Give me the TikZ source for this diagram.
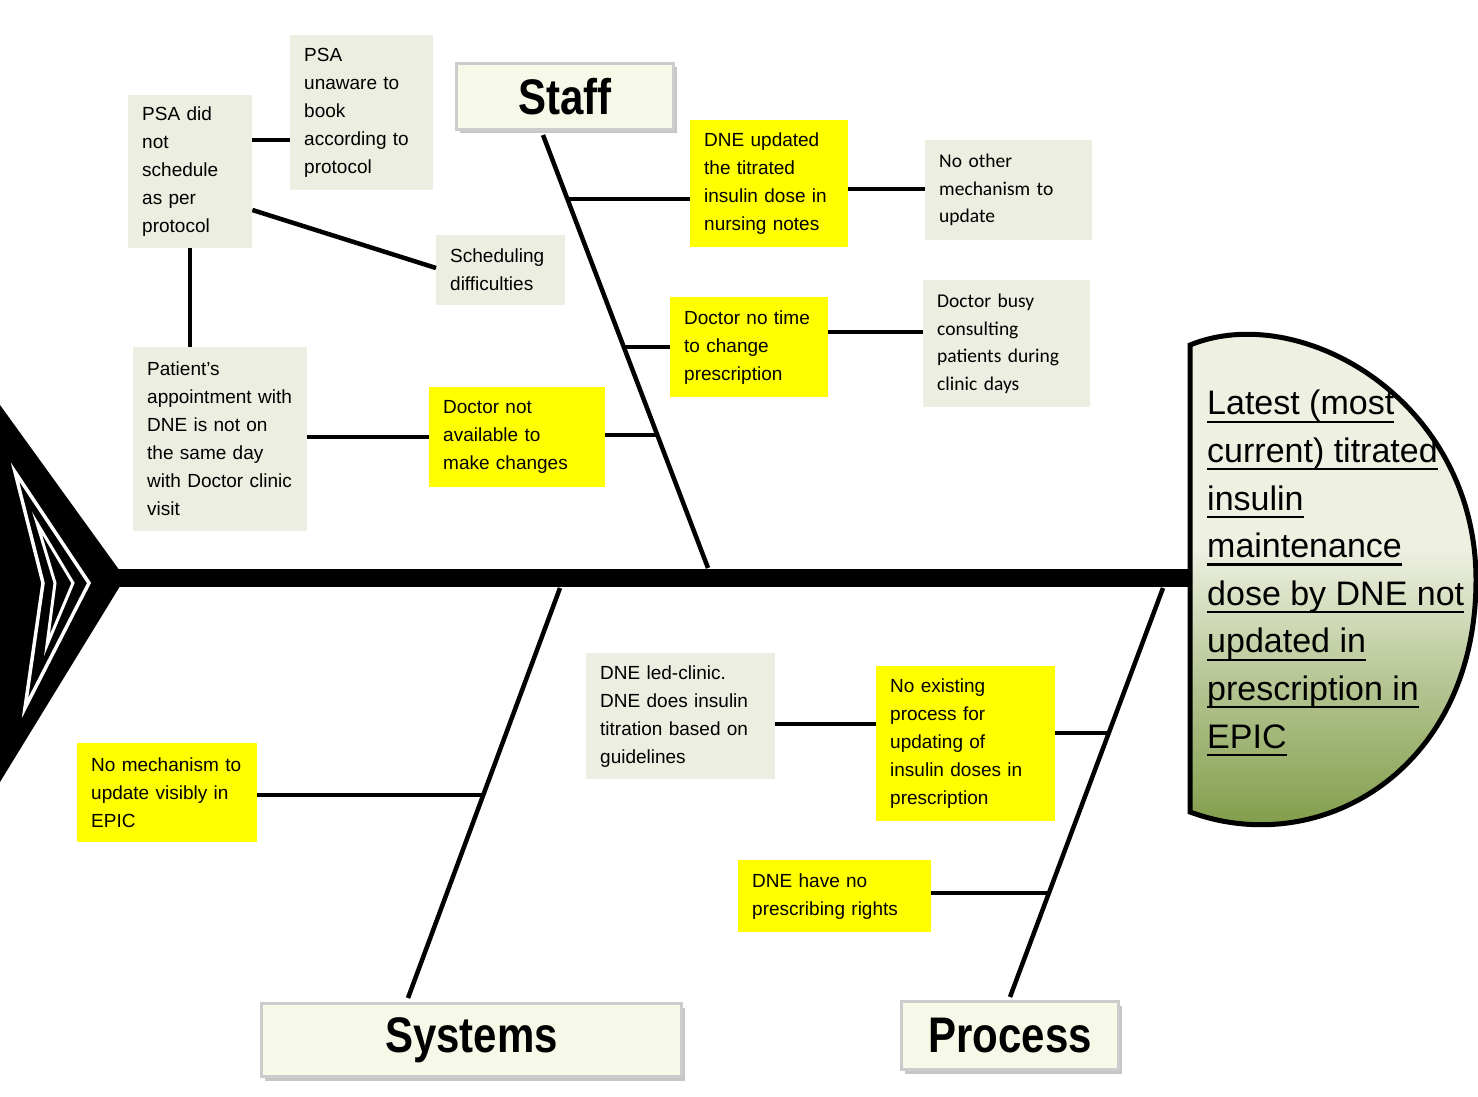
\documentclass[tikz,border=0pt]{standalone}
\usepackage{fontspec}
\setmainfont{Liberation Sans}
\newfontfamily\carlito{Carlito}
\newfontfamily\estrecha{Liberation Sans}[FakeStretch=0.84]
\usetikzlibrary{positioning,shadows}
\newcommand\subrayado[1]{\setbox0\hbox{#1}\rlap{\rule[-8pt]{\wd0}{2.2pt}}\box0}
\definecolor{grisverde}{RGB}{235,238,224}
\definecolor{amarillo}{RGB}{255,255,0}
\definecolor{crema}{RGB}{246,249,231}
\definecolor{verdeclaro}{RGB}{238,241,226}
\definecolor{verdeoliva}{RGB}{118,148,58}
\pgfdeclareverticalshading{cabeza}{100bp}{color(0bp)=(verdeoliva); color(25bp)=(verdeoliva); color(40bp)=(verdeoliva!50!verdeclaro); color(53bp)=(verdeclaro); color(100bp)=(verdeclaro)}
\tikzset{causa/.style={fill=grisverde, anchor=north west, align=left, inner xsep=14pt, inner ysep=0pt, font=\fontsize{19}{28}\selectfont}}
\tikzset{amarilla/.style={causa, fill=amarillo}}
\tikzset{nota/.style={causa, font=\carlito\fontsize{19.5}{27.5}\selectfont}}
\tikzset{categoria/.style={fill=crema, draw=gray!40, line width=3pt, anchor=north west, inner sep=0pt, font=\estrecha\bfseries\fontsize{50}{50}\selectfont, drop shadow={shadow xshift=3pt, shadow yshift=-4pt, opacity=0.45}}}
\tikzset{hueso/.style={line width=4.5pt}}

\begin{document}
\begin{tikzpicture}[x=1pt, y=-1pt]
            \useasboundingbox (0,0) rectangle (1478,1097);

            % cola
            \fill[black] (0,405) -- (125,578) -- (0,782) -- cycle;
            \draw[white, line width=3.5pt, line join=miter] (15,472) -- (89,583) -- (25,708) -- (43,583) -- cycle;
            \draw[white, line width=3pt, line join=miter] (37,523) -- (73,583) -- (47,645) -- (55,583) -- cycle;

            % espina y huesos
            \coordinate (tailTip) at (118,578);
            \coordinate (headSide) at (1195,578);
            \coordinate (staffTop) at (543,135);
            \coordinate (staffBot) at (708,568);
            \coordinate (sysTop) at (560,588);
            \coordinate (sysBot) at (408,998);
            \coordinate (procTop) at (1163,588);
            \coordinate (procBot) at (1010,997);
            \coordinate (sb1) at (567,199);
            \coordinate (sb2) at (624,347);
            \coordinate (sb3) at (657,435);
            \coordinate (yb1) at (483,795);
            \coordinate (pb1) at (1109,733);
            \coordinate (pb2) at (1049,893);
            \draw[line width=18pt] (tailTip) -- (headSide);
            \draw[hueso] (staffTop) -- (staffBot);
            \draw[hueso] (sysTop) -- (sysBot);
            \draw[hueso] (procTop) -- (procBot);

            % cabeza
            \path[draw, line width=5pt, shading=cabeza]
                (1190,345) .. controls (1300,300) and (1476,400) .. (1476,580)
                .. controls (1476,770) and (1320,860) .. (1190,812) -- cycle;
            \node[anchor=north west, align=left, inner sep=0pt, font=\fontsize{34}{47.6}\selectfont] (efecto) at (1207,390)
                {\subrayado{Latest (most}\\\subrayado{current) titrated}\\\subrayado{insulin}\\\subrayado{maintenance}\\\subrayado{dose by DNE not}\\\subrayado{updated in}\\\subrayado{prescription in}\\\subrayado{EPIC}};

            % categorias
            \node[categoria, minimum width=217pt, minimum height=66pt] (staff) at (455,62) {Staff};
            \node[categoria, minimum width=420pt, minimum height=73pt] (systems) at (260,1002) {Systems};
            \node[categoria, minimum width=217pt, minimum height=68pt] (process) at (900,1000) {Process};

            % causas
            \node[causa, text width=96pt, minimum height=153pt] (psaNo) at (128,95) {PSA did\\not\\schedule\\as per\\protocol};
            \node[causa, text width=115pt, minimum height=155pt] (psaUnaware) at (290,35) {PSA\\unaware to\\book\\according to\\protocol};
            \node[causa, text width=101pt, minimum height=70pt] (scheduling) at (436,235) {Scheduling\\difficulties};
            \node[causa, text width=146pt, minimum height=184pt] (patientAppt) at (133,347) {Patient's\\appointment with\\DNE is not on\\the same day\\with Doctor clinic\\visit};
            \node[nota, text width=139pt, minimum height=100pt] (noOther) at (925,140) {No other\\mechanism to\\update};
            \node[nota, text width=139pt, minimum height=127pt] (doctorBusy) at (923,280) {Doctor busy\\consulting\\patients during\\clinic days};
            \node[causa, text width=161pt, minimum height=126pt] (dneClinic) at (586,653) {DNE led-clinic.\\DNE does insulin\\titration based on\\guidelines};
            \node[amarilla, text width=130pt, minimum height=127pt] (dneUpdated) at (690,120) {DNE updated\\the titrated\\insulin dose in\\nursing notes};
            \node[amarilla, text width=130pt, minimum height=100pt] (doctorNoTime) at (670,297) {Doctor no time\\to change\\prescription};
            \node[amarilla, text width=148pt, minimum height=100pt] (doctorNotAvail) at (429,387) {Doctor not\\available to\\make changes};
            \node[amarilla, text width=152pt, minimum height=99pt] (noMechanism) at (77,743) {No mechanism to\\update visibly in\\EPIC};
            \node[amarilla, text width=151pt, minimum height=155pt] (noExisting) at (876,666) {No existing\\process for\\updating of\\insulin doses in\\prescription};
            \node[amarilla, text width=165pt, minimum height=72pt] (dneNoRights) at (738,860) {DNE have no\\prescribing rights};

            % conectores
            \draw[hueso] (psaNo.east |- 0,140) -- (psaUnaware.west |- 0,140);
            \draw[hueso] (psaNo.east |- 0,210) -- (scheduling.west |- 0,268);
            \draw[hueso] (psaNo.south) -- (psaNo.south |- patientAppt.north);
            \draw[hueso] (patientAppt.east |- 0,437) -- (doctorNotAvail.west |- 0,437);
            \draw[hueso] (doctorNotAvail.east |- 0,435) -- (sb3);
            \draw[hueso] (sb2) -- (doctorNoTime.west |- 0,347);
            \draw[hueso] (doctorNoTime.east |- 0,332) -- (doctorBusy.west |- 0,332);
            \draw[hueso] (sb1) -- (dneUpdated.west |- 0,199);
            \draw[hueso] (dneUpdated.east |- 0,189) -- (noOther.west |- 0,189);
            \draw[hueso] (noMechanism.east |- 0,795) -- (yb1);
            \draw[hueso] (dneClinic.east |- 0,724) -- (noExisting.west |- 0,724);
            \draw[hueso] (noExisting.east |- 0,733) -- (pb1);
            \draw[hueso] (dneNoRights.east |- 0,893) -- (pb2);
\end{tikzpicture}
\end{document}
